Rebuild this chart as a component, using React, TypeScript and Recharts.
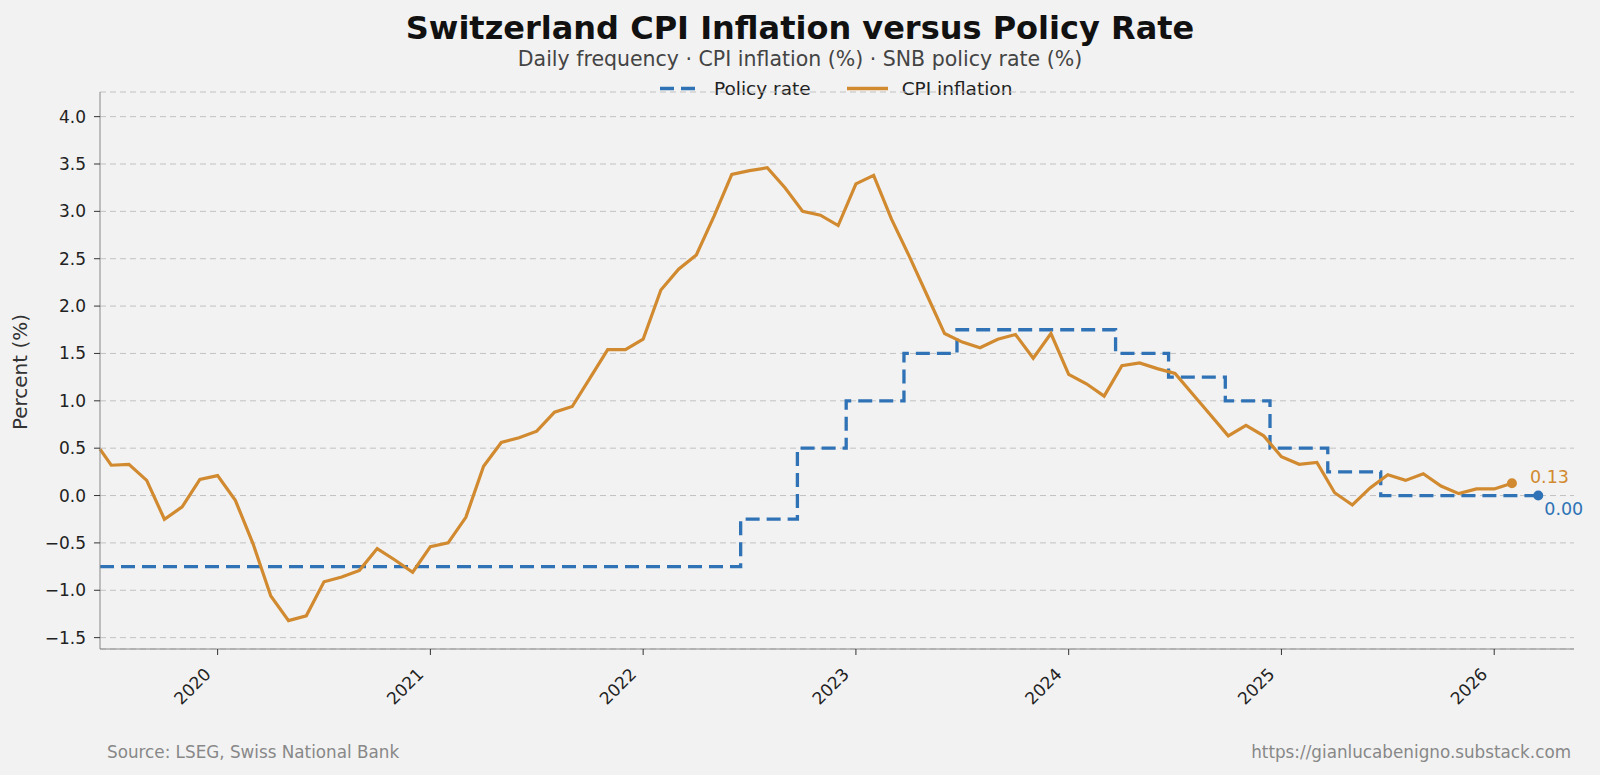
import React from "react";
import { LineChart, Line, XAxis, YAxis, CartesianGrid } from "recharts";

const cpiDates = [
  "2019-06-12", "2019-07-01", "2019-08-01", "2019-09-01", "2019-10-01", "2019-11-01", "2019-12-01",
  "2020-01-01", "2020-02-01", "2020-03-01", "2020-04-01", "2020-05-01", "2020-06-01",
  "2020-07-01", "2020-08-01", "2020-09-01", "2020-10-01", "2020-11-01", "2020-12-01",
  "2021-01-01", "2021-02-01", "2021-03-01", "2021-04-01", "2021-05-01", "2021-06-01",
  "2021-07-01", "2021-08-01", "2021-09-01", "2021-10-01", "2021-11-01", "2021-12-01",
  "2022-01-01", "2022-02-01", "2022-03-01", "2022-04-01", "2022-05-01", "2022-06-01",
  "2022-07-01", "2022-08-01", "2022-09-01", "2022-10-01", "2022-11-01", "2022-12-01",
  "2023-01-01", "2023-02-01", "2023-03-01", "2023-04-01", "2023-05-01", "2023-06-01",
  "2023-07-01", "2023-08-01", "2023-09-01", "2023-10-01", "2023-11-01", "2023-12-01",
  "2024-01-01", "2024-02-01", "2024-03-01", "2024-04-01", "2024-05-01", "2024-06-01",
  "2024-07-01", "2024-08-01", "2024-09-01", "2024-10-01", "2024-11-01", "2024-12-01",
  "2025-01-01", "2025-02-01", "2025-03-01", "2025-04-01", "2025-05-01", "2025-06-01",
  "2025-07-01", "2025-08-01", "2025-09-01", "2025-10-01", "2025-11-01", "2025-12-01",
  "2026-01-01", "2026-02-01",
];

const cpiValues = [
  0.49, 0.32, 0.33, 0.16, -0.25, -0.12, 0.17,
  0.21, -0.05, -0.51, -1.06, -1.32, -1.27,
  -0.91, -0.86, -0.79, -0.56, -0.68, -0.81,
  -0.54, -0.5, -0.23, 0.31, 0.56, 0.61,
  0.68, 0.88, 0.94, 1.24, 1.54, 1.54,
  1.65, 2.17, 2.39, 2.54, 2.95, 3.39,
  3.43, 3.46, 3.25, 3.0, 2.96, 2.85,
  3.29, 3.38, 2.92, 2.53, 2.12, 1.71,
  1.62, 1.56, 1.65, 1.7, 1.45, 1.71,
  1.28, 1.18, 1.05, 1.37, 1.4, 1.34,
  1.29, 1.07, 0.85, 0.63, 0.74, 0.63,
  0.41, 0.33, 0.35, 0.03, -0.1, 0.08,
  0.22, 0.16, 0.23, 0.1, 0.02, 0.07,
  0.07, 0.13,
];

// SNB decisions (rate holds until the next date)
const rateDates = [
  "2019-06-12", "2022-06-16", "2022-09-22", "2022-12-15", "2023-03-23", "2023-06-22",
  "2024-03-21", "2024-06-20", "2024-09-26", "2024-12-12", "2025-03-20", "2025-06-19",
  "2026-03-16",
];
const rateValues = [-0.75, -0.25, 0.5, 1.0, 1.5, 1.75, 1.5, 1.25, 1.0, 0.5, 0.25, 0.0, 0.0];

const yearTicks = [2020, 2021, 2022, 2023, 2024, 2025, 2026];
const yTicks = [-1.5, -1.0, -0.5, 0.0, 0.5, 1.0, 1.5, 2.0, 2.5, 3.0, 3.5, 4.0];

const BLUE = "#2f72b5";
const ORANGE = "#d18a2f";
const FONT = "'DejaVu Sans', sans-serif";

// months since Jan 2020, fractional
function toMonth(d: string) {
  const [y, mo, day] = d.split("-").map(Number);
  const dim = new Date(y, mo, 0).getDate();
  return (y - 2020) * 12 + (mo - 1) + (day - 1) / dim;
}

const rows: { m: number; cpi?: number | null; rate?: number | null }[] = [];
cpiDates.forEach((d, i) => rows.push({ m: toMonth(d), cpi: cpiValues[i], rate: null }));
rateDates.forEach((d, i) => {
  const m = toMonth(d);
  const hit = rows.find((r) => Math.abs(r.m - m) < 1e-9);
  if (hit) hit.rate = rateValues[i];
  else rows.push({ m, cpi: null, rate: rateValues[i] });
});
rows.sort((a, b) => a.m - b.m);

const lastCpiM = toMonth(cpiDates[cpiDates.length - 1]);
const lastRateM = toMonth(rateDates[rateDates.length - 1]);
const xMin = toMonth(cpiDates[0]);
const xMax = 76.5;

const fmt = (v: number) => (v < 0 ? "\u2212" : "") + Math.abs(v).toFixed(1);

function XTick(props: any) {
  const { x, y, payload } = props;
  return (
    <text
      transform={`translate(${x - 10},${y + 14}) rotate(-45)`}
      textAnchor="end"
      dominantBaseline="central"
      fontSize={17}
      fontFamily={FONT}
      fill="#222"
    >
      {2020 + Math.round(payload.value / 12)}
    </text>
  );
}

function endDot(color: string, lastM: number, dx: number, dy: number) {
  return (props: any) => {
    const { cx, cy, payload, index } = props;
    if (payload == null || Math.abs(payload.m - lastM) > 1e-9 || cx == null) {
      return <g key={`d-${index}`} />;
    }
    const v = color === ORANGE ? payload.cpi : payload.rate;
    return (
      <g key={`d-${index}`}>
        <circle cx={cx} cy={cy} r={5} fill={color} />
        <text
          x={cx + dx}
          y={cy + dy}
          fill={color}
          fontSize={17.5}
          fontFamily={FONT}
          dominantBaseline="central"
        >
          {v.toFixed(2)}
        </text>
      </g>
    );
  };
}

export default function App() {
  return (
    <div
      style={{
        position: "absolute",
        left: 0,
        top: 0,
        width: 1600,
        height: 775,
        background: "#f2f2f2",
        fontFamily: FONT,
        overflow: "hidden",
      }}
    >
      <div
        style={{
          position: "absolute",
          top: 28,
          left: 0,
          width: 1600,
          textAlign: "center",
          transform: "translateY(-50%)",
          fontSize: 32,
          fontWeight: "bold",
          color: "#111",
        }}
      >
        Switzerland CPI Inflation versus Policy Rate
      </div>
      <div
        style={{
          position: "absolute",
          top: 59,
          left: 0,
          width: 1600,
          textAlign: "center",
          transform: "translateY(-50%)",
          fontSize: 20.5,
          color: "#444",
        }}
      >
        Daily frequency · CPI inflation (%) · SNB policy rate (%)
      </div>
      <div
        style={{
          position: "absolute",
          top: 88,
          left: 660,
          transform: "translateY(-50%)",
          display: "flex",
          alignItems: "center",
          fontSize: 18.5,
          color: "#222",
        }}
      >
        <svg width={40} height={6}>
          <line x1={0} y1={3} x2={40} y2={3} stroke={BLUE} strokeWidth={3.5} strokeDasharray="14 7" />
        </svg>
        <span style={{ marginLeft: 14 }}>Policy rate</span>
        <svg width={41} height={6} style={{ marginLeft: 36 }}>
          <line x1={0} y1={3} x2={41} y2={3} stroke={ORANGE} strokeWidth={3.5} />
        </svg>
        <span style={{ marginLeft: 14 }}>CPI inflation</span>
      </div>
      <div
        style={{
          position: "absolute",
          left: 20,
          top: 372,
          transform: "translate(-50%, -50%) rotate(-90deg)",
          fontSize: 20,
          color: "#333",
          whiteSpace: "nowrap",
        }}
      >
        Percent (%)
      </div>
      <div style={{ position: "absolute", left: 107, top: 752, transform: "translateY(-50%)", fontSize: 16.8, color: "#888" }}>
        Source: LSEG, Swiss National Bank
      </div>
      <div style={{ position: "absolute", right: 29, top: 752, transform: "translateY(-50%)", fontSize: 16.8, color: "#888" }}>
        https://gianlucabenigno.substack.com
      </div>

      <div style={{ position: "absolute", left: 0, top: 0 }}>
        <LineChart
          width={1600}
          height={775}
          data={rows}
          margin={{ top: 92, right: 26, left: 40, bottom: 66 }}
        >
          <CartesianGrid vertical={false} stroke="#c2c2c2" strokeDasharray="6 4" />
          <XAxis
            dataKey="m"
            type="number"
            domain={[xMin, xMax]}
            ticks={yearTicks.map((y) => (y - 2020) * 12)}
            tick={<XTick />}
            tickSize={6}
            tickMargin={2}
            height={60}
            stroke="#888"
            tickLine={{ stroke: "#333" }}
          />
          <YAxis
            type="number"
            domain={[-1.62, 4.26]}
            ticks={yTicks}
            tickFormatter={fmt}
            width={60}
            tickSize={6}
            tickMargin={8}
            stroke="#888"
            tickLine={{ stroke: "#333" }}
            tick={{ fill: "#222", fontSize: 17, fontFamily: FONT }}
          />
          <Line
            dataKey="rate"
            type="stepAfter"
            stroke={BLUE}
            strokeWidth={3.3}
            strokeDasharray="14 7"
            connectNulls
            dot={endDot(BLUE, lastRateM, 6, 13)}
            activeDot={false}
            isAnimationActive={false}
          />
          <Line
            dataKey="cpi"
            type="linear"
            stroke={ORANGE}
            strokeWidth={3.2}
            connectNulls
            dot={endDot(ORANGE, lastCpiM, 18, -6)}
            activeDot={false}
            isAnimationActive={false}
          />
        </LineChart>
      </div>
    </div>
  );
}
